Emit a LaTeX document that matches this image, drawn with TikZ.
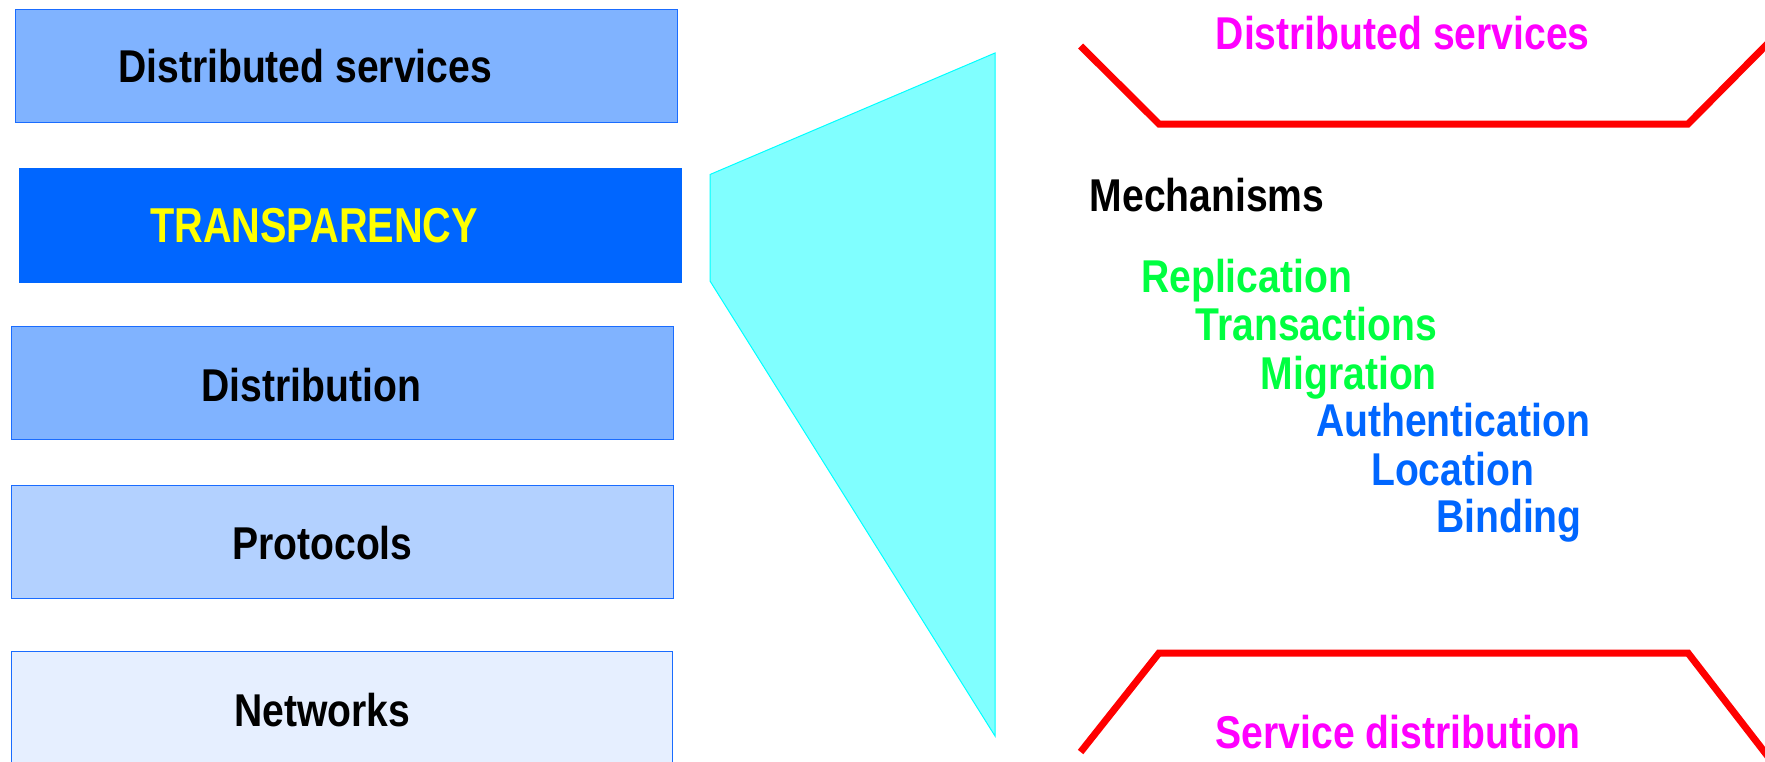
\documentclass[tikz,border=0pt]{standalone}
\usepackage{fontspec}
\setmainfont{Liberation Sans}[FakeStretch=0.85]
\newfontfamily\tightfont{Liberation Sans}[FakeStretch=0.81]
\definecolor{layerA}{HTML}{80B3FF}
\definecolor{layerB}{HTML}{B3D1FF}
\definecolor{layerC}{HTML}{E6EFFF}
\definecolor{layerEdge}{HTML}{1A6CFF}
\definecolor{transp}{HTML}{0066FF}
\definecolor{transptext}{HTML}{FFFF00}
\definecolor{mechgreen}{HTML}{00FF40}
\definecolor{mechblue}{HTML}{0066FF}
\definecolor{headpink}{HTML}{FF00FF}
\definecolor{wedgefill}{HTML}{80FFFF}
\definecolor{wedgeedge}{HTML}{00FFFF}
\definecolor{bracketred}{HTML}{FF0000}
\tikzset{
  layer/.style={draw=layerEdge, line width=1.2pt, rectangle, anchor=north west, inner sep=0pt},
  lbl/.style={anchor=base west, inner sep=0pt, font=\fontsize{46}{50}\selectfont\bfseries},
  biglbl/.style={lbl, font=\tightfont\fontsize{49}{52}\selectfont\bfseries},
  bracket/.style={draw=bracketred, line width=7pt, line join=miter},
}
\begin{document}
\begin{tikzpicture}[x=1pt, y=-1pt]
\useasboundingbox (0,0) rectangle (1765,761);
\clip (0,0) rectangle (1765,761);
\fill[white] (0,0) rectangle (1765,761);

% layer stack
\node[layer, fill=layerA, minimum width=662pt, minimum height=113pt] (services) at (15,9) {};
\node[layer, draw=none, fill=transp, minimum width=663pt, minimum height=115pt] (transparency) at (18,167) {};
\node[layer, fill=layerA, minimum width=662pt, minimum height=113pt] (distribution) at (11,326) {};
\node[layer, fill=layerB, minimum width=662pt, minimum height=113pt] (protocols) at (11,485) {};
\node[layer, fill=layerC, minimum width=661pt, minimum height=150pt] (networks) at (11,651) {};

\node[lbl] (servicesT) at (118,82.7) {Distributed services};
\node[biglbl, text=transptext] (transparencyT) at (150,242.7) {TRANSPARENCY};
\node[lbl] (distributionT) at (201.5,401) {Distribution};
\node[lbl] (protocolsT) at (232,559.3) {Protocols};
\node[lbl] (networksT) at (234,726) {Networks};

% expansion wedge from the transparency layer
\coordinate (w1) at (710,174.5);
\coordinate (w2) at (995,53);
\coordinate (w3) at (995,736);
\coordinate (w4) at (710,281);
\filldraw[fill=wedgefill, draw=wedgeedge, line width=1pt, line join=miter] (w1) -- (w2) -- (w3) -- (w4) -- cycle;

% upper and lower brackets
\coordinate (t1) at (1080.6,46);
\coordinate (t2) at (1159,124);
\coordinate (t3) at (1688,124);
\coordinate (t4) at (1790,21);
\draw[bracket] (t1) -- (t2) -- (t3) -- (t4);
\coordinate (u1) at (1080.6,752);
\coordinate (u2) at (1159,653);
\coordinate (u3) at (1688,653);
\coordinate (u4) at (1790,785);
\draw[bracket] (u1) -- (u2) -- (u3) -- (u4);

% right-hand texts
\node[lbl, text=headpink] (upper) at (1215.6,49.3) {Distributed services};
\node[lbl] (mech) at (1089.6,211.7) {Mechanisms};
\node[lbl, text=mechgreen] (m1) at (1141,292.7) {Replication};
\node[lbl, text=mechgreen] (m2) at (1195.4,340.7) {Transactions};
\node[lbl, text=mechgreen] (m3) at (1260.7,389) {Migration};
\node[lbl, text=mechblue] (m4) at (1316,436.7) {Authentication};
\node[lbl, text=mechblue] (m5) at (1371,485) {Location};
\node[lbl, text=mechblue] (m6) at (1436,532.7) {Binding};
\node[lbl, text=headpink] (lower) at (1215.6,748.3) {Service distribution};
\end{tikzpicture}
\end{document}
